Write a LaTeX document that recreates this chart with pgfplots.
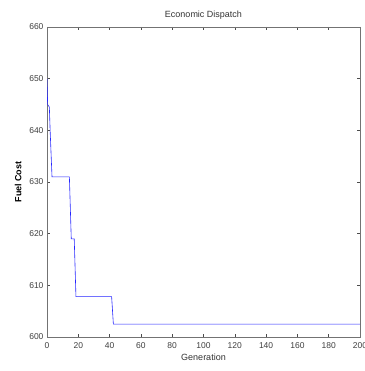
\documentclass[border=0pt]{standalone}
\usepackage{pgfplots}
\pgfplotsset{compat=1.18}
\usepackage{fontspec}
\setmainfont{Liberation Sans}
\begin{document}
\begin{tikzpicture}
\begin{axis}[
  name=ax,
  scale only axis,
  width=313pt, height=310pt,
  xmin=0, xmax=200, ymin=600, ymax=660,
  xtick={0,20,...,200}, ytick={600,610,...,660},
  tick align=inside,
  tick pos=both,
  major tick length=3pt,
  axis line style={draw=black!55, line width=0.6pt},
  tick style={draw=black!70, line width=0.5pt},
  ticklabel style={font=\fontsize{8.5}{9}\selectfont, text=black!75},
  /pgf/number format/assume math mode=true,
  /pgf/number format/1000 sep={},
  xticklabel style={yshift=-2pt},
  yticklabel style={xshift=0pt},
  title={Economic Dispatch},
  title style={font=\fontsize{9}{10}\selectfont, text=black!80, yshift=-2pt},
  xlabel={Generation},
  xlabel style={font=\fontsize{9}{10}\selectfont, text=black!80, yshift=1pt},
  ylabel={Fuel Cost},
  ylabel style={font=\fontsize{9}{10}\selectfont\bfseries, yshift=1pt},
]
\addplot[color=blue!85, line width=0.6pt] coordinates {
(0,650) (0.4,645) (1.5,644.5) (2,640) (3.2,631) (14.3,631) (15.5,619) (17.4,619) (18.5,607.8) (41.3,607.8) (42.4,602.5) (200,602.5)
};
\end{axis}
\pgfresetboundingbox
\path ([shift={(-47pt,-34pt)}]ax.south west) rectangle ([shift={(5pt,27pt)}]ax.north east);
\end{tikzpicture}
\end{document}
